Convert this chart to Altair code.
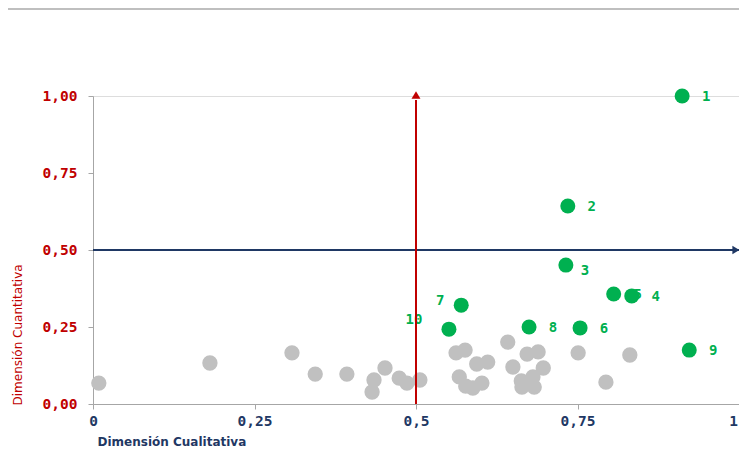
import altair as alt
import pandas as pd

# ---- data ----
green_label = ["1", "2", "3", "4", "5", "6", "7", "8", "9", "10"]
green_x = [0.912, 0.735, 0.732, 0.834, 0.806, 0.754, 0.570, 0.675, 0.923, 0.551]
green_y = [1.000, 0.643, 0.451, 0.351, 0.357, 0.247, 0.321, 0.250, 0.175, 0.243]

gray_x = [0.009, 0.181, 0.308, 0.344, 0.393, 0.435, 0.432, 0.452, 0.474, 0.486,
          0.506, 0.562, 0.576, 0.567, 0.577, 0.588, 0.594, 0.611, 0.602, 0.642,
          0.672, 0.689, 0.650, 0.663, 0.681, 0.697, 0.664, 0.683, 0.751, 0.831,
          0.794]
gray_y = [0.068, 0.133, 0.166, 0.097, 0.097, 0.078, 0.039, 0.117, 0.084, 0.068,
          0.078, 0.166, 0.175, 0.088, 0.058, 0.052, 0.130, 0.136, 0.068, 0.201,
          0.162, 0.169, 0.120, 0.075, 0.088, 0.117, 0.055, 0.055, 0.166, 0.159,
          0.071]

x_ticks = [0, 0.25, 0.5, 0.75, 1]
y_ticks = [0, 0.25, 0.5, 0.75, 1]

x_title = "Dimensión Cualitativa"
y_title = "Dimensión Cuantitativa"

# reference lines
v_line_x = 0.5
h_line_y = 0.5

RED = "#c00000"
NAVY = "#1f3864"
GREEN = "#00b050"
GRAY = "#c0c0c0"
AXIS_GRAY = "#a6a6a6"
MONO = "DejaVu Sans Mono"
SANS = "DejaVu Sans"

green_df = pd.DataFrame({"x": green_x, "y": green_y, "label": green_label})
gray_df = pd.DataFrame({"x": gray_x, "y": gray_y})

xs = alt.Scale(domain=[0, 1], nice=False, zero=False)
ys = alt.Scale(domain=[0, 1], nice=False, zero=False)

x_axis = alt.Axis(
    values=x_ticks, grid=False, title=x_title,
    labelExpr="replace(format(datum.value, '.2~f'), '.', ',')",
    labelFont=MONO, labelFontSize=14.5, labelFontWeight="bold", labelColor=NAVY,
    labelBaseline="middle", labelPadding=12, labelFlush=False,
    labelOffset={"condition": {"test": "datum.value == 1", "value": -6}, "value": 0},
    tickSize=5, tickColor=AXIS_GRAY, domainColor=AXIS_GRAY,
    titleFont=SANS, titleFontSize=12, titleFontWeight="bold", titleColor=NAVY,
    titleAnchor="start", titleAlign="left", titleBaseline="alphabetic",
    titleX=4, titleY=41,
)
y_axis = alt.Axis(
    values=y_ticks, grid=False, title=y_title,
    labelExpr="replace(format(datum.value, '.2f'), '.', ',')",
    labelFont=MONO, labelFontSize=14.5, labelFontWeight="bold", labelColor=RED,
    labelPadding=11, labelFlush=False,
    tickSize=5, tickColor=AXIS_GRAY, domainColor=AXIS_GRAY,
    titleFont=SANS, titleFontSize=12, titleFontWeight="normal", titleColor=RED,
    titleAnchor="start", titleAngle=270, titleAlign="left", titleBaseline="middle",
    titleX=-76, titleY=309,
)

gray_pts = alt.Chart(gray_df).mark_circle(size=235, color=GRAY, opacity=1).encode(
    x=alt.X("x:Q", scale=xs, axis=x_axis),
    y=alt.Y("y:Q", scale=ys, axis=y_axis),
)

base_g = alt.Chart(green_df)
txt_kw = dict(font=MONO, fontSize=14, fontWeight="bold", color=GREEN,
              align="center", baseline="middle")
lab_right = base_g.transform_filter(
    "indexof(['1','2','4','5','6','8','9'], datum.label) >= 0"
).mark_text(dx=24, dy=1, **txt_kw).encode(x=alt.X("x:Q", scale=xs), y=alt.Y("y:Q", scale=ys), text="label:N")
lab_3 = base_g.transform_filter("datum.label == '3'").mark_text(dx=19, dy=6, **txt_kw).encode(
    x=alt.X("x:Q", scale=xs), y=alt.Y("y:Q", scale=ys), text="label:N")
lab_7 = base_g.transform_filter("datum.label == '7'").mark_text(dx=-21, dy=-4, **txt_kw).encode(
    x=alt.X("x:Q", scale=xs), y=alt.Y("y:Q", scale=ys), text="label:N")
lab_10 = base_g.transform_filter("datum.label == '10'").mark_text(dx=-35, dy=-9, **txt_kw).encode(
    x=alt.X("x:Q", scale=xs), y=alt.Y("y:Q", scale=ys), text="label:N")

green_pts = base_g.mark_circle(size=225, color=GREEN, opacity=1).encode(
    x=alt.X("x:Q", scale=xs), y=alt.Y("y:Q", scale=ys)
)

line_df = pd.DataFrame({"v": [0.5]})
h_line = alt.Chart(line_df).mark_rule(color=NAVY, strokeWidth=2).encode(
    y=alt.datum(h_line_y, scale=ys), x=alt.value(0), x2=alt.value(646)
)
h_arrow = alt.Chart(line_df).mark_point(shape="triangle-right", filled=True, size=70,
                                        color=NAVY, opacity=1).encode(
    y=alt.datum(h_line_y, scale=ys), x=alt.value(643)
)
v_line = alt.Chart(line_df).mark_rule(color=RED, strokeWidth=2).encode(
    x=alt.datum(v_line_x, scale=xs), y=alt.value(308), y2=alt.value(4)
)
v_arrow = alt.Chart(line_df).mark_point(shape="triangle-up", filled=True, size=80,
                                        color=RED, opacity=1).encode(
    x=alt.datum(v_line_x, scale=xs), y=alt.value(-1)
)
top_rule = alt.Chart(line_df).mark_rule(color="#bfbfbf", strokeWidth=2).encode(
    y=alt.value(-87), x=alt.value(-85), x2=alt.value(646)
)

chart = alt.layer(
    top_rule, gray_pts, lab_right, lab_3, lab_7, lab_10, green_pts,
    h_line, h_arrow, v_line, v_arrow
).properties(
    width=646, height=308,
    autosize=alt.AutoSizeParams(type="none"),
    padding={"left": 85, "top": 88, "right": 0, "bottom": 43},
).configure_view(stroke=None).configure(background="white")

chart.save("out.html", embed_options={"renderer": "svg", "actions": False})
